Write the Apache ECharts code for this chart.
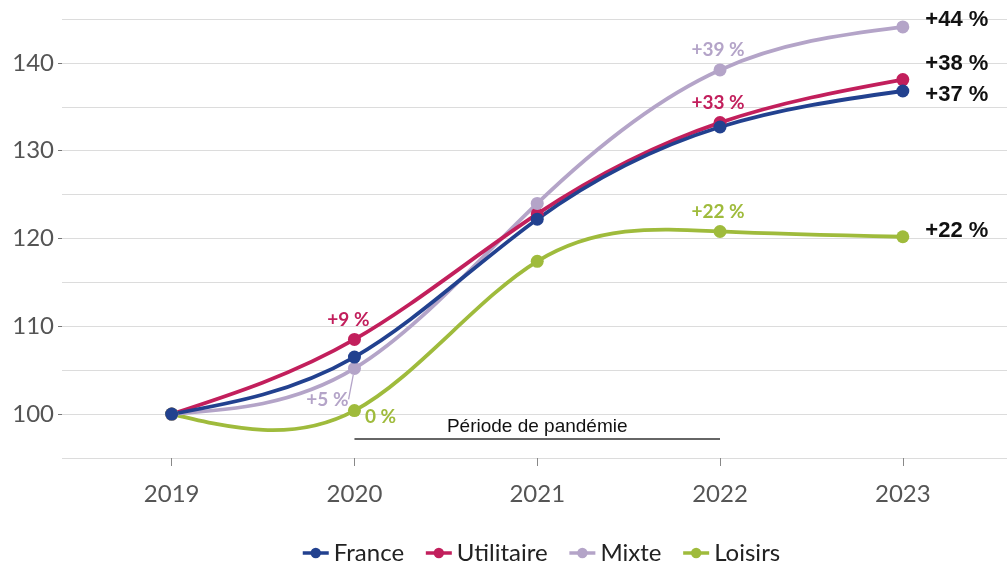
<!DOCTYPE html>
<html>
<head>
<meta charset="utf-8">
<script src="https://cdn.jsdelivr.net/npm/echarts@6/dist/echarts.min.js"></script>
<style>
  html, body { margin: 0; padding: 0; background: #fff; }
  #chart { width: 1007px; height: 565px; }
</style>
</head>
<body>
<div id="chart"></div>
<script>
// Indice base 100 en 2019
const years = [2019, 2020, 2021, 2022, 2023];
const france = [100, 106.5, 122.2, 132.7, 136.8];
const utilitaire = [100, 108.5, 122.8, 133.2, 138.1];
const mixte = [100, 105.2, 124.0, 139.2, 144.1];
const loisirs = [100, 100.4, 117.4, 120.8, 120.2];

// Etiquettes de variation (index -> texte)
const labelsFrance = { 4: '+37 %' };
const labelsUtilitaire = { 1: '+9 %', 3: '+33 %', 4: '+38 %' };
const labelsMixte = { 1: '+5 %', 3: '+39 %', 4: '+44 %' };
const labelsLoisirs = { 1: '0 %', 3: '+22 %', 4: '+22 %' };

const yTicks = [100, 110, 120, 130, 140];
const pandemic = [2020, 2022];
const pandemicLevel = 97.15;

const COLORS = {
  France: '#22418f',
  Utilitaire: '#c21f5c',
  Mixte: '#b4a4c8',
  Loisirs: '#9fbb3c'
};
const LINE_WIDTH = 3.8;

// Position de chaque étiquette selon la série et l'année
const LABEL_POS = {
  Utilitaire: { 1: { position: 'top', offset: [-6, 0] }, 3: { position: 'top', offset: [-2, 0] }, 4: { position: 'right', offset: [6, -16] } },
  Mixte: { 1: { position: 'bottom', offset: [0, 0] }, 3: { position: 'top', offset: [0, 0] }, 4: { position: 'right', offset: [0, 0] } },
  Loisirs: { 1: { position: 'right', offset: [0, 6] }, 3: { position: 'top', offset: [-2, 0] }, 4: { position: 'right', offset: [6, -6] } },
  France: { 4: { position: 'right', offset: [6, 4] } }
};
// Mixte labels are moved by labelLayout (so "+5 %" gets a guide line)
const MIXTE_SHIFT = { 1: { dx: -27, dy: 11 }, 3: { dx: -2, dy: 0 }, 4: { dx: 6, dy: -7 } };

/**
 * Natural cubic spline through the points, returned as bezier segments
 * in data space: [p0, cp1, cp2, p1]
 */
function splineSegments(xs, ys) {
  const n = xs.length;
  const h = [];
  for (let i = 0; i < n - 1; i++) h.push(xs[i + 1] - xs[i]);
  const M = new Array(n).fill(0);
  const cp = [], dp = [];
  for (let i = 1; i < n - 1; i++) {
    const a = h[i - 1], b = 2 * (h[i - 1] + h[i]), c = h[i];
    const d = 6 * ((ys[i + 1] - ys[i]) / h[i] - (ys[i] - ys[i - 1]) / h[i - 1]);
    if (i === 1) {
      cp[i] = c / b;
      dp[i] = d / b;
    } else {
      const m = b - a * cp[i - 1];
      cp[i] = c / m;
      dp[i] = (d - a * dp[i - 1]) / m;
    }
  }
  for (let i = n - 2; i >= 1; i--) {
    M[i] = dp[i] - (i < n - 2 ? cp[i] * M[i + 1] : 0);
  }
  const segs = [];
  for (let i = 0; i < n - 1; i++) {
    const hi = h[i];
    const sec = (ys[i + 1] - ys[i]) / hi;
    const s0 = sec - hi * (2 * M[i] + M[i + 1]) / 6;
    const s1 = sec + hi * (M[i] + 2 * M[i + 1]) / 6;
    segs.push([
      [xs[i], ys[i]],
      [xs[i] + hi / 3, ys[i] + s0 * hi / 3],
      [xs[i + 1] - hi / 3, ys[i + 1] - s1 * hi / 3],
      [xs[i + 1], ys[i + 1]]
    ]);
  }
  return segs;
}

function makeCurve(name, values) {
  const segs = splineSegments(years, values);
  return {
    type: 'custom',
    name: name + ' courbe',
    silent: true,
    clip: false,
    z: 2,
    data: [[years[0], values[0]]],
    renderItem: (params, api) => ({
      type: 'group',
      children: segs.map(s => {
        const p0 = api.coord(s[0]);
        const c1 = api.coord(s[1]);
        const c2 = api.coord(s[2]);
        const p1 = api.coord(s[3]);
        return {
          type: 'bezierCurve',
          shape: {
            x1: p0[0], y1: p0[1],
            cpx1: c1[0], cpy1: c1[1],
            cpx2: c2[0], cpy2: c2[1],
            x2: p1[0], y2: p1[1]
          },
          style: { stroke: COLORS[name], lineWidth: LINE_WIDTH, fill: null, lineCap: 'round' }
        };
      })
    })
  };
}

function buildData(name, values, labels) {
  return years.map((y, i) => {
    const item = { value: [y, values[i]] };
    if (labels[i]) {
      const pos = LABEL_POS[name][i];
      const isEnd = i === years.length - 1;
      item.label = {
        show: true,
        formatter: labels[i],
        position: pos.position,
        offset: pos.offset,
        distance: isEnd ? 10 : 4,
        color: isEnd ? '#111' : COLORS[name],
        fontFamily: isEnd ? 'Liberation Sans' : 'Lato',
        fontWeight: 'bold',
        fontSize: isEnd ? 22 : 19
      };
    }
    return item;
  });
}

// points + labels (the curve itself comes from makeCurve)
function makeSeries(name, values, labels) {
  return {
    name: name,
    type: 'line',
    symbol: 'circle',
    symbolSize: 13,
    lineStyle: { width: 0, color: COLORS[name] },
    itemStyle: { color: COLORS[name] },
    emphasis: { disabled: true },
    z: 3,
    data: buildData(name, values, labels)
  };
}

const curves = [
  makeCurve('Loisirs', loisirs),
  makeCurve('Mixte', mixte),
  makeCurve('Utilitaire', utilitaire),
  makeCurve('France', france)
];
const points = [
  makeSeries('France', france, labelsFrance),
  makeSeries('Utilitaire', utilitaire, labelsUtilitaire),
  makeSeries('Mixte', mixte, labelsMixte),
  makeSeries('Loisirs', loisirs, labelsLoisirs)
];
points[0].z = 5;

// Mixte: only the 2020 label gets a guide line
const mixteSeries = points[2];
mixteSeries.labelLine = { show: false };
mixteSeries.data[1].labelLine = { show: true, length2: 0, lineStyle: { color: COLORS.Mixte, width: 1.3 } };
mixteSeries.data[3].labelLine = { show: false };
mixteSeries.data[4].labelLine = { show: false };
mixteSeries.labelLayout = params => MIXTE_SHIFT[params.dataIndex] || null;

// Période de pandémie
points[0].markLine = {
  silent: true,
  symbol: 'none',
  lineStyle: { color: '#333', width: 1.5, type: 'solid' },
  label: {
    show: true,
    position: 'middle',
    formatter: 'Période de pandémie',
    color: '#111',
    fontFamily: 'Liberation Sans',
    fontSize: 19,
    distance: 3
  },
  data: [[
    { coord: [pandemic[0], pandemicLevel] },
    { coord: [pandemic[1], pandemicLevel] }
  ]]
};

const chart = echarts.init(document.getElementById('chart'));
chart.setOption({
  animation: false,
  backgroundColor: '#fff',
  grid: { left: 62, right: 0, top: 19, bottom: 107 },
  legend: {
    top: 536,
    left: 296,
    itemWidth: 26,
    itemHeight: 13,
    itemGap: 20,
    lineStyle: { width: 3.5 },
    textStyle: { fontFamily: 'Lato', fontSize: 24, color: '#222' },
    data: ['France', 'Utilitaire', 'Mixte', 'Loisirs']
  },
  xAxis: {
    type: 'value',
    min: 2018.4,
    max: 2023.57,
    axisLine: { show: false },
    axisTick: { show: true, customValues: years, length: 8, lineStyle: { color: '#888' } },
    splitLine: { show: false },
    axisLabel: {
      customValues: years,
      margin: 24,
      fontFamily: 'Lato',
      fontSize: 24,
      color: '#555',
      formatter: v => String(v)
    }
  },
  yAxis: [{
    type: 'value',
    min: 95,
    max: 145,
    interval: 5,
    axisLine: { show: false },
    axisTick: { show: true, customValues: yTicks, length: 4, lineStyle: { color: '#777' } },
    splitLine: { show: false },
    axisLabel: {
      customValues: yTicks,
      margin: 8,
      fontFamily: 'Lato',
      fontSize: 24,
      color: '#555'
    }
  }, {
    type: 'value',
    position: 'left',
    min: 95,
    max: 145,
    interval: 5,
    axisLine: { show: false },
    axisTick: { show: false },
    axisLabel: { show: false },
    splitLine: { show: true, lineStyle: { color: '#dcdcdc', width: 1.2 } }
  }],
  series: curves.concat(points)
});
</script>
</body>
</html>
